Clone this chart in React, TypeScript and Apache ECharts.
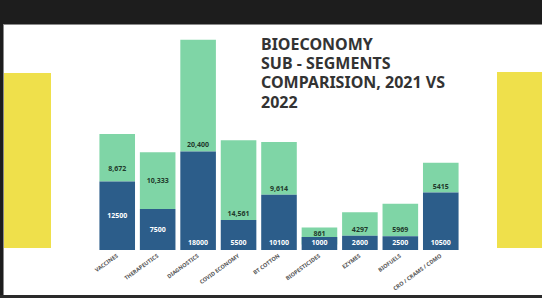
import React, { useEffect, useRef } from "react";
import * as echarts from "echarts";

const categories = [
  "VACCINES",
  "THERAPEUTICS",
  "DIAGNOSTICS",
  "COVID ECONOMY",
  "BT COTTON",
  "BIOPESTICIDES",
  "EZYMES",
  "BIOFUELS",
  "CRO / CRAMS / CDMO",
];
const values2021 = [12500, 7500, 18000, 5500, 10100, 1000, 2600, 2500, 10500];
const values2022 = [8672, 10333, 20400, 14561, 9614, 861, 4297, 5969, 5415];
const labels2022 = ["8,672", "10,333", "20,400", "14,561", "9,614", "861", "4297", "5969", "5415"];
const titleLines = ["BIOECONOMY", "SUB - SEGMENTS", "COMPARISION, 2021 VS", "2022"];

const BLUE = "#2c5d8a";
const GREEN = "#7fd5a6";
const YELLOW = "#efe04b";
const FONT = "Noto Sans";

export default function App() {
  const ref = useRef<HTMLDivElement>(null);
  useEffect(() => {
    document.body.style.margin = "0";
    document.body.style.overflow = "hidden";
    const chart = echarts.init(ref.current!, null, { renderer: "svg" });
    const blueData = values2021.map((v, i) => ({
      value: v,
      label: i < 2 ? { position: "inside" } : undefined,
    }));
    const greenData = values2022.map((v, i) => ({
      value: v,
      label:
        i === 1
          ? { position: "inside" }
          : i === 0
          ? { position: "insideBottom", distance: 10 }
          : i === 5
          ? { position: "insideTop", distance: 2 }
          : undefined,
    }));
    const titleGraphics = titleLines.map((t, i) => ({
      type: "text",
      x: 261,
      y: 35 + i * 19.2,
      style: {
        text: t,
        fontSize: 16,
        fontWeight: "bold",
        fontFamily: FONT,
        lineHeight: 18,
        fill: "#333333",
        verticalAlign: "top",
      },
    }));
    chart.setOption({
      animation: false,
      backgroundColor: "#ffffff",
      grid: { left: 97, right: 81, top: 31, bottom: 48, containLabel: false },
      xAxis: {
        type: "category",
        data: categories,
        axisLine: { show: false },
        axisTick: { show: false },
        axisLabel: {
          interval: 0,
          rotate: 36,
          margin: 5,
          fontSize: 5.5,
          fontWeight: "bold",
          color: "#555555",
          fontFamily: FONT,
        },
      },
      yAxis: {
        type: "value",
        min: 0,
        max: 40000,
        show: false,
        splitLine: { show: false },
      },
      series: [
        {
          name: "2021",
          type: "bar",
          stack: "total",
          z: 3,
          barCategoryGap: "12%",
          barMinHeight: 13,
          itemStyle: { color: BLUE },
          label: {
            show: true,
            position: "insideBottom",
            distance: 4,
            color: "#ffffff",
            fontSize: 7,
            fontWeight: "bold",
            fontFamily: FONT,
          },
          data: blueData,
        },
        {
          name: "2022",
          type: "bar",
          stack: "total",
          z: 2,
          barCategoryGap: "12%",
          barMinHeight: 17,
          itemStyle: { color: GREEN },
          label: {
            show: true,
            position: "insideBottom",
            distance: 3,
            color: "#1f3a2c",
            fontSize: 7,
            fontWeight: "bold",
            fontFamily: FONT,
            formatter: (p: any) => labels2022[p.dataIndex],
          },
          data: greenData,
        },
      ],
      graphic: [
        { type: "rect", shape: { x: 0, y: 0, width: 542, height: 24 }, style: { fill: "#1d1d1d" } },
        { type: "rect", shape: { x: 0, y: 24, width: 542, height: 1 }, style: { fill: "#8a8a8a" } },
        { type: "rect", shape: { x: 0, y: 24, width: 3, height: 274 }, style: { fill: "#1d1d1d" } },
        { type: "rect", shape: { x: 3, y: 25, width: 1, height: 271 }, style: { fill: "#8a8a8a" } },
        { type: "rect", shape: { x: 0, y: 295, width: 542, height: 3 }, style: { fill: "#2a2a2a" } },
        { type: "rect", shape: { x: 4, y: 73, width: 47, height: 175 }, style: { fill: YELLOW } },
        { type: "rect", shape: { x: 497, y: 72, width: 45, height: 176 }, style: { fill: YELLOW } },
        ...titleGraphics,
      ],
    });
    return () => chart.dispose();
  }, []);
  return <div ref={ref} style={{ width: 542, height: 298 }} />;
}
